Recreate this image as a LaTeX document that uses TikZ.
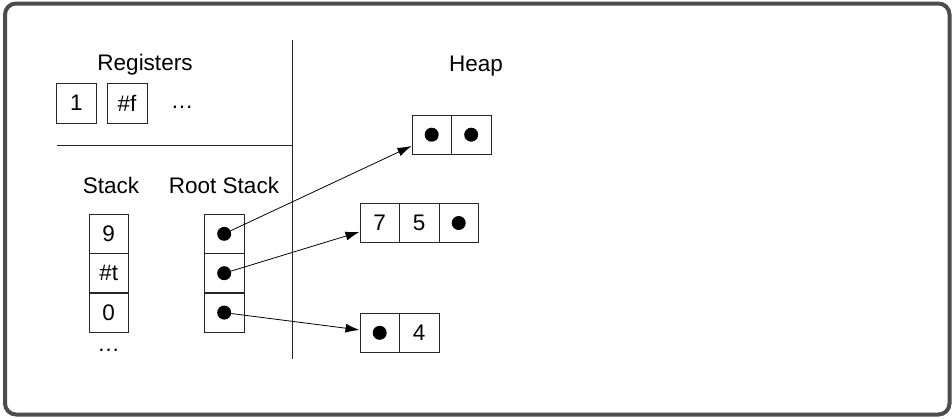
\documentclass[tikz,border=0pt]{standalone}
\usepackage{fontspec}
\setmainfont{Liberation Sans}
\usetikzlibrary{arrows.meta,calc}
\begin{document}
\begin{tikzpicture}[x=1pt,y=-1pt,
  every node/.style={font=\fontsize{22.5}{27}\selectfont},
  cell/.style={draw=black!85,line width=0.9pt,minimum width=39.5pt,minimum height=39.5pt,inner sep=0pt},
  dot/.style={circle,fill=black,inner sep=0pt,minimum size=14pt},
  lbl/.style={inner sep=0pt},
  arr/.style={line width=0.8pt,-{Latex[length=14pt,width=9pt]}},
  sep/.style={line width=0.9pt,draw=black!85}]
\useasboundingbox (0,0) rectangle (952,418);
\draw[line width=4pt,draw=black!70,rounded corners=11pt] (5,3.5) rectangle (949.5,414.5);
% labels
\node[lbl] (reg) at (145,65) {Registers};
\node[lbl] (stk) at (111,185) {Stack};
\node[lbl] (rst) at (224,185) {Root Stack};
\node[lbl] (heap) at (476,66) {Heap};
% separators
\coordinate (vtop) at (292.7,39.5);
\coordinate (vbot) at (292.7,358.5);
\coordinate (hl) at (57,145.7);
\coordinate (hr) at (292.7,145.7);
\draw[sep] (vtop) -- (vbot);
\draw[sep] (hl) -- (hr);
% registers
\node[cell,minimum width=40pt,minimum height=40pt] (r1) at (76.3,103) {1};
\node[cell,minimum width=40pt,minimum height=40pt] (r2) at (127,103) {\#f};
\node[lbl] (rdots) at (182,107) {…};
% stack
\node[cell] (s1) at (108.7,233.8) {9};
\node[cell] (s2) at (108.7,273.2) {\#t};
\node[cell] (s3) at (108.7,312.6) {0};
\node[lbl] (sdots) at (108.7,350) {…};
% root stack
\node[cell] (k1) at (224.2,233.8) {};
\node[cell] (k2) at (224.2,273.2) {};
\node[cell] (k3) at (224.2,312.6) {};
\node[dot] (d1) at (k1) {};
\node[dot] (d2) at (k2) {};
\node[dot] (d3) at (k3) {};
% heap
\node[cell] (h1a) at (431.7,134.7) {};
\node[cell] (h1b) at (471.2,134.7) {};
\node[dot] (e1) at (h1a) {};
\node[dot] (e2) at (h1b) {};
\node[cell] (h2a) at (379.7,223) {7};
\node[cell] (h2b) at (419.2,223) {5};
\node[cell] (h2c) at (458.7,223) {};
\node[dot] (e3) at (h2c) {};
\node[cell] (h3a) at (379.7,332.8) {};
\node[cell] (h3b) at (419.2,332.8) {4};
\node[dot] (e4) at (h3a) {};
% arrows
\draw[arr] (d1) -- ($(h1a.south west)!0.22!(h1a.north west)$);
\draw[arr] (d2) -- ($(h2a.south west)!0.28!(h2a.north west)$);
\draw[arr] (d3) -- ($(h3a.south west)!0.57!(h3a.north west)$);
\end{tikzpicture}
\end{document}
